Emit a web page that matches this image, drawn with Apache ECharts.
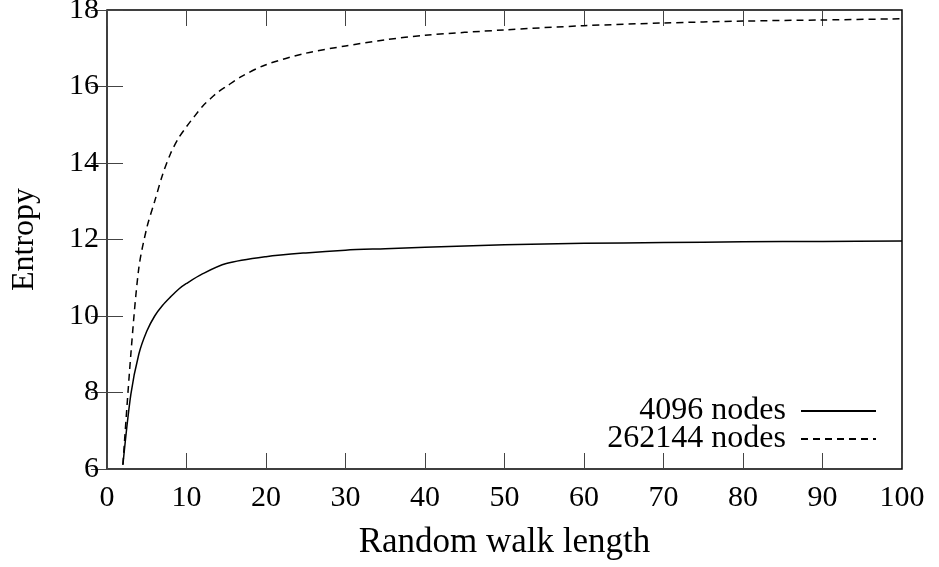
<!DOCTYPE html>
<html>
<head>
<meta charset="utf-8">
<script src="https://cdn.jsdelivr.net/npm/echarts@6/dist/echarts.min.js"></script>
<style>html,body{margin:0;padding:0;background:#fff}#c{width:939px;height:567px}</style>
</head>
<body>
<div id="c"></div>
<script>
// Data
const xSmall = [2, 3, 4, 5, 6, 7, 8, 9, 10, 12, 15, 20, 25, 30, 35, 40, 50, 60, 70, 80, 90, 100];
const ySmall = [6.11, 7.95, 9.0, 9.6, 10.0, 10.28, 10.5, 10.7, 10.85, 11.1, 11.37, 11.55, 11.65, 11.72, 11.76, 11.8, 11.86, 11.9, 11.92, 11.94, 11.95, 11.96];
const xLarge = [2, 3, 4, 5, 6, 7, 8, 9, 10, 11, 12, 13, 14, 15, 17, 20, 25, 30, 35, 40, 50, 60, 70, 80, 90, 100];
const yLarge = [6.11, 9.0, 11.25, 12.3, 13.0, 13.7, 14.25, 14.65, 14.95, 15.22, 15.48, 15.68, 15.86, 16.0, 16.27, 16.57, 16.87, 17.06, 17.22, 17.34, 17.48, 17.59, 17.66, 17.71, 17.74, 17.77];
const seriesNames = ['4096 nodes', '262144 nodes'];
const xTicks = [0, 100, 10];
const yTicks = [6, 18, 2];

const FONT = '"Liberation Serif", "Times New Roman", serif';
const pairs = (xs, ys) => xs.map((x, i) => [x, ys[i]]);

const chart = echarts.init(document.getElementById('c'), null, {renderer: 'canvas'});
const tickStyle = {show: true, inside: true, length: 16, lineStyle: {color: '#444', width: 1}};
chart.setOption({
  animation: false,
  backgroundColor: '#fff',
  grid: {left: 107, right: 37, top: 10, bottom: 98, show: true, borderColor: '#000', borderWidth: 1.5, outerBoundsMode: 'none', containLabel: false},
  xAxis: [{
    type: 'value', min: xTicks[0], max: xTicks[1], interval: xTicks[2],
    name: 'Random walk length', nameLocation: 'middle', nameGap: 56,
    nameTextStyle: {fontFamily: FONT, fontSize: 35, color: '#000'},
    axisLine: {show: false}, axisTick: tickStyle, splitLine: {show: false},
    axisLabel: {fontFamily: FONT, fontSize: 30, color: '#000', margin: 14}
  }, {
    type: 'value', min: xTicks[0], max: xTicks[1], interval: xTicks[2], position: 'top',
    axisLine: {show: false}, axisTick: tickStyle, splitLine: {show: false}, axisLabel: {show: false}
  }],
  yAxis: [{
    type: 'value', min: yTicks[0], max: yTicks[1], interval: yTicks[2],
    name: 'Entropy', nameLocation: 'middle', nameGap: 66,
    nameTextStyle: {fontFamily: FONT, fontSize: 32, color: '#000'},
    axisLine: {show: false}, axisTick: tickStyle, splitLine: {show: false},
    axisLabel: {fontFamily: FONT, fontSize: 30, color: '#000', margin: 8}
  }, {
    type: 'value', min: yTicks[0], max: yTicks[1], interval: yTicks[2], position: 'right',
    axisLine: {show: false}, axisTick: tickStyle, splitLine: {show: false}, axisLabel: {show: false}
  }],
  legend: {
    orient: 'vertical', align: 'right', right: 57, top: 390,
    itemWidth: 75, itemHeight: 14, itemGap: -4,
    itemStyle: {opacity: 0},
    textStyle: {fontFamily: FONT, fontSize: 32, color: '#000', padding: [0, 10, 0, 0]},
    data: seriesNames
  },
  series: [{
    name: seriesNames[0], type: 'line', data: pairs(xSmall, ySmall),
    showSymbol: false, symbol: 'none', smooth: 0.3,
    lineStyle: {color: '#000', width: 1.5, type: 'solid'}, itemStyle: {color: '#000'}
  }, {
    name: seriesNames[1], type: 'line', data: pairs(xLarge, yLarge),
    showSymbol: false, symbol: 'none', smooth: 0.3,
    lineStyle: {color: '#000', width: 1.5, type: [7, 5]}, itemStyle: {color: '#000'}
  }]
});
</script>
</body>
</html>
